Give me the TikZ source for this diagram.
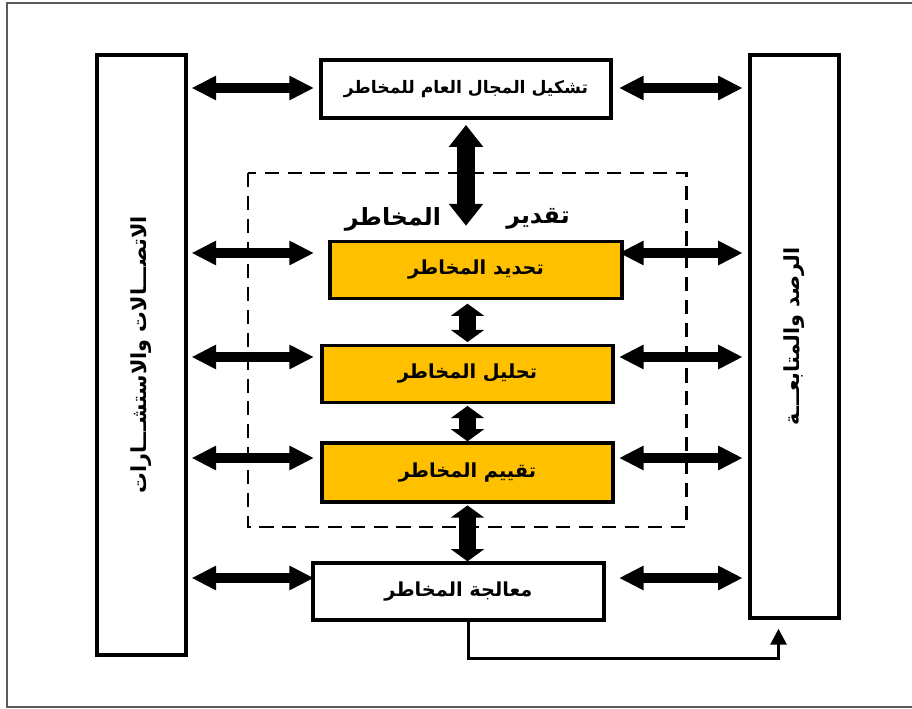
\documentclass[tikz,border=0pt]{standalone}
\usepackage{fontspec}
\usetikzlibrary{arrows.meta,calc}
\TeXXeTstate=1
\newfontfamily\arabicfont[Script=Arabic]{DejaVu Sans}
\definecolor{RiskYellow}{RGB}{255,192,0}
\definecolor{FrameGray}{RGB}{90,90,90}

\begin{document}
\begin{tikzpicture}[x=0.02cm, y=-0.02cm,
            sidebox/.style={draw, line width=2.3pt, minimum width=1.78cm, inner sep=0pt,
                font=\arabicfont\bfseries\fontsize{11.8}{14}\selectfont},
            stagebox/.style={draw, line width=1.9pt, minimum width=5.82cm, minimum height=1.14cm,
                inner sep=0pt, font=\arabicfont\bfseries\fontsize{11}{13}\selectfont},
            riskbox/.style={stagebox, fill=RiskYellow},
            titletext/.style={inner sep=0pt, font=\arabicfont\bfseries\fontsize{13.5}{16}\selectfont},
            sidearrow/.style={line width=5.7pt,
                {Triangle[length=14pt,width=13pt]}-{Triangle[length=14pt,width=13pt]}},
            tallarrow/.style={line width=9.7pt,
                {Triangle[length=12.5pt,width=18.8pt]}-{Triangle[length=12.5pt,width=18.8pt]}},
            shortarrow/.style={line width=9.7pt,
                {Triangle[length=7pt,width=18.8pt]}-{Triangle[length=7pt,width=18.8pt]}},
            feedback/.style={line width=1.7pt, -{Triangle[length=9pt,width=9pt]}}
        ]
            \useasboundingbox (0,0) rectangle (912,709);
            \draw [FrameGray, line width=0.9pt] (7,3) rectangle (930,707);

            % Side boxes
            \node [sidebox, minimum height=12cm] (comm) at (141.5,355)
                {\rotatebox{90}{\beginR الاتصـــالات والاستشـــارات\endR}};
            \node [sidebox, minimum height=11.26cm] (monit) at (794.5,336.5)
                {\rotatebox{90}{\beginR الرصد والمتابعـــة\endR}};

            % Process boxes
            \node [stagebox, minimum width=5.8cm, minimum height=1.16cm,
                font=\arabicfont\bfseries\fontsize{9.8}{12}\selectfont] (scope) at (466,89)
                {\beginR تشكيل المجال العام للمخاطر\endR};
            \node [riskbox, minimum width=5.84cm] (ident) at (476,270) {\beginR تحديد المخاطر\endR};
            \node [riskbox] (analys) at (467.5,374) {\beginR تحليل المخاطر\endR};
            \node [riskbox, minimum height=1.18cm] (evalu) at (467.5,472.5) {\beginR تقييم المخاطر\endR};
            \node [stagebox] (treat) at (458.5,591.5) {\beginR معالجة المخاطر\endR};

            % Assessment frame
            \draw [dashed, line width=1.7pt, dash pattern=on 8pt off 5pt] (248,173) rectangle (686,527);
            \node [titletext] (assessA) at (538,219) {\beginR تقدير\endR};
            \node [titletext] (assessB) at (393,219) {\beginR المخاطر\endR};

            % Side arrows
            \coordinate (lin) at (314,0);
            \coordinate (rin) at (619,0);
            \foreach \h in {88,253,357,458,578} {
                \draw [sidearrow, shorten <=2pt] (comm.east |- 0,\h) -- (lin |- 0,\h);
                \draw [sidearrow, shorten >=3pt] (rin |- 0,\h) -- (monit.west |- 0,\h);
            }

            % Vertical arrows
            \draw [tallarrow, shorten <=3pt, shorten >=8pt] (scope.south) -- (scope.south |- ident.north);
            \draw [shortarrow, shorten <=2pt, shorten >=1pt] (analys.north |- ident.south) -- (analys.north);
            \draw [shortarrow, shorten <=1pt, shorten >=0pt] (analys.south) -- (evalu.north);
            \draw [shortarrow, shorten <=1pt, shorten >=0pt] (evalu.south) -- (evalu.south |- treat.north);

            % Feedback to monitoring
            \draw [feedback, shorten >=5pt] ($(treat.south)+(10,0)$) -- ++(0,37) -| ($(monit.south)+(-16,0)$);
        \end{tikzpicture}
\end{document}
